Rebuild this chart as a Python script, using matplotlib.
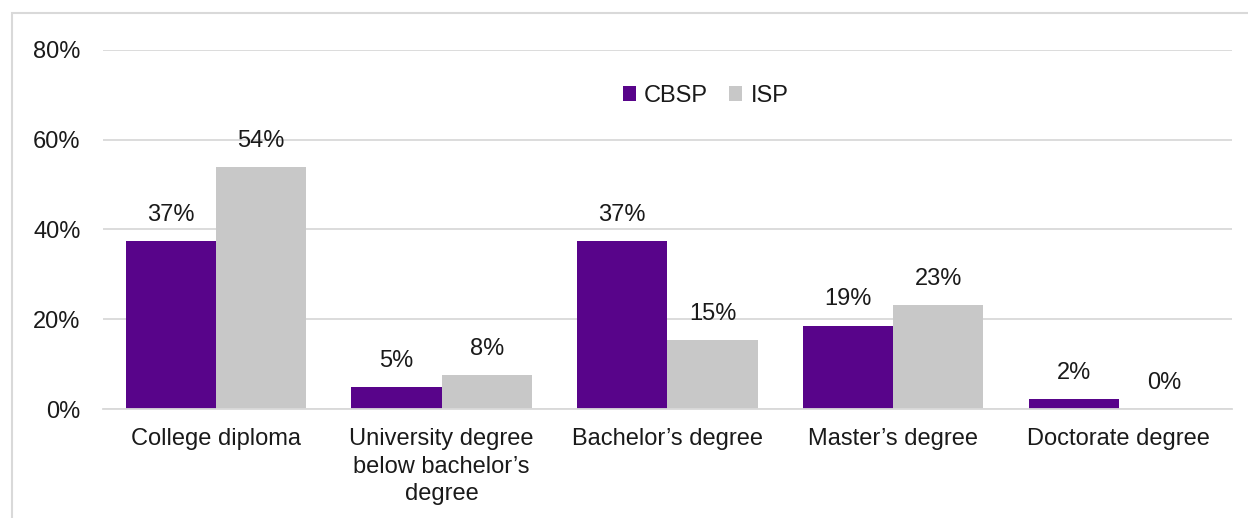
import matplotlib.pyplot as plt
from matplotlib.patches import Rectangle
import numpy as np

plt.rcParams['font.family'] = ['Liberation Sans', 'DejaVu Sans']

categorias = ['College diploma',
              'University degree\nbelow bachelor\u2019s\ndegree',
              'Bachelor\u2019s degree',
              'Master\u2019s degree',
              'Doctorate degree']
cbsp = [37.4, 4.9, 37.4, 18.6, 2.2]
isp = [53.9, 7.6, 15.4, 23.2, 0.0]
ticks_y = [0, 20, 40, 60, 80]

MORADO = '#58048a'
GRIS = '#c8c8c8'
LINEA = '#d9d9d9'

fig = plt.figure(figsize=(12.48, 5.18), dpi=100)
ax = fig.add_axes([0.0825, 0.2104, 0.9045, 0.6931])

x = np.arange(len(categorias))
ancho = 0.4
b1 = ax.bar(x - ancho / 2, cbsp, ancho, color=MORADO, label='CBSP', zorder=3)
b2 = ax.bar(x + ancho / 2, isp, ancho, color=GRIS, label='ISP', zorder=3)

# etiquetas de valor redondeadas encima de cada barra
for barras in (b1, b2):
    ax.bar_label(barras, labels=[f'{v:.0f}%' for v in barras.datavalues],
                 padding=11, fontsize=17, color='#1a1a1a')

ax.set_xlim(-0.5, len(categorias) - 0.5)
ax.set_ylim(0, 80)
ax.set_yticks(ticks_y)
ax.set_yticklabels([f'{t}%' for t in ticks_y])
ax.set_xticks(x)
ax.set_xticklabels(categorias, linespacing=1.32)
ax.tick_params(axis='y', length=0, pad=16, labelsize=17, labelcolor='#1a1a1a')
ax.tick_params(axis='x', length=0, pad=14, labelsize=17, labelcolor='#1a1a1a')

ax.grid(axis='y', color=LINEA, linewidth=1.3, zorder=0)
for lado in ['top', 'right', 'left']:
    ax.spines[lado].set_visible(False)
ax.spines['bottom'].set_color(LINEA)
ax.spines['bottom'].set_linewidth(1.3)
ax.spines['bottom'].set_zorder(4)

ax.legend(loc='center', bbox_to_anchor=(0.534, 0.872), ncol=2, frameon=False,
          fontsize=17, handlelength=0.55, handleheight=0.55, handletextpad=0.35,
          columnspacing=0.9, labelcolor='#1a1a1a')

# marco exterior
fig.patches.append(Rectangle((0.0096, -0.05), 1.05, 1.025, transform=fig.transFigure,
                             fill=False, edgecolor=LINEA, linewidth=1.5))

fig.savefig('out.png', dpi=100)
